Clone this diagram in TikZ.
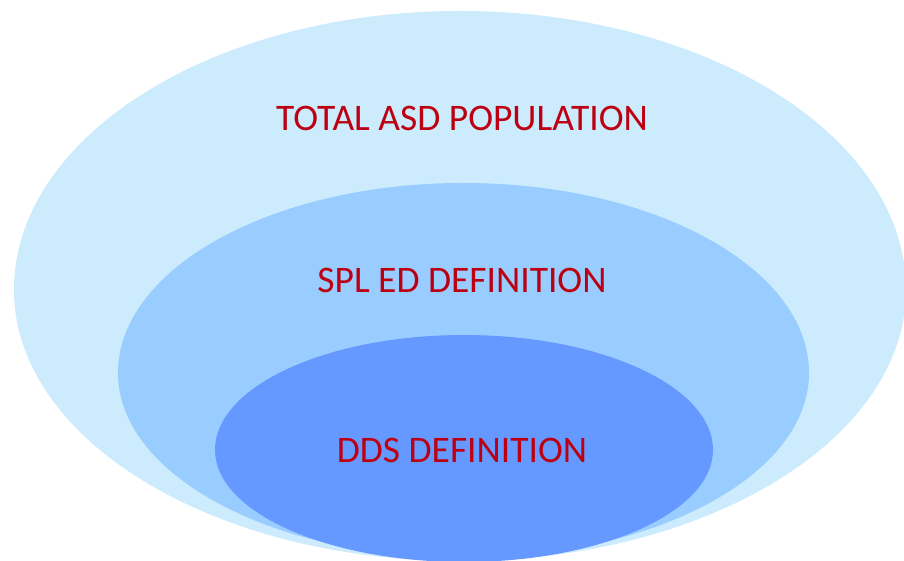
\documentclass[tikz,border=0pt]{standalone}
\usepackage{fontspec}
\setmainfont{Carlito}
\definecolor{outerc}{RGB}{204,235,253}
\definecolor{midc}{RGB}{153,204,255}
\definecolor{innerc}{RGB}{102,153,255}
\definecolor{txtc}{RGB}{188,0,18}
\newcommand{\eggshape}[6]{% colour, cx, cy, rx, top ry, bottom ry
  \fill[#1] ({#2-#4},#3) arc[start angle=180, end angle=0, x radius=#4, y radius=#5]
    arc[start angle=0, end angle=-180, x radius=#4, y radius=#6] -- cycle;}
\begin{document}
\begin{tikzpicture}[x=1pt,y=1pt,
  lbl/.style={text=txtc,font=\fontsize{37.5}{40}\selectfont,inner sep=0pt}]
\useasboundingbox (0,0) rectangle (904,561);
\begin{scope}
\clip (0,0) rectangle (904,561);
\eggshape{outerc}{460}{271}{446}{279}{271}
\eggshape{midc}{463.5}{188}{345.5}{190}{185}
\eggshape{innerc}{464}{111}{249}{115}{112}
\end{scope}
\node[lbl] (total) at (462,443) {TOTAL ASD POPULATION};
\node[lbl] (spl) at (462,281) {SPL ED DEFINITION};
\node[lbl] (dds) at (462,111) {DDS DEFINITION};
\end{tikzpicture}
\end{document}
